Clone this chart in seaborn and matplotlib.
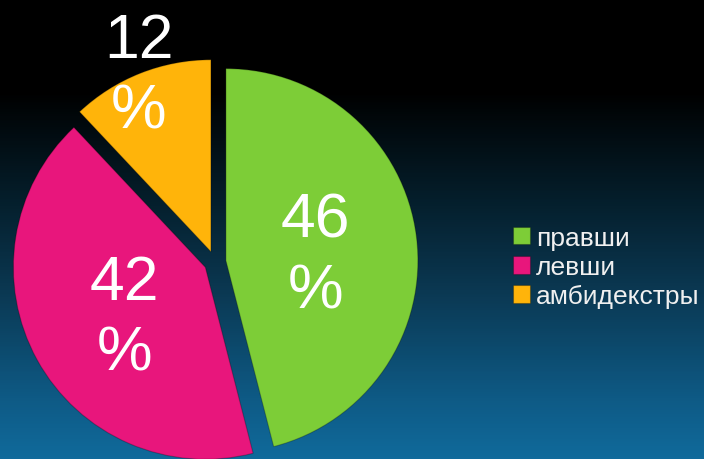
import numpy as np
import matplotlib
matplotlib.use("Agg")
import matplotlib.pyplot as plt
import seaborn as sns
from matplotlib.colors import LinearSegmentedColormap

# ---- data ----
categories = ["правши", "левши", "амбидекстры"]
values = [46, 42, 12]
pct_labels = ["46\n%", "42\n%", "12\n%"]

# ---- style ----
sns.set_style("white")
plt.rcParams['font.family'] = ['Liberation Sans', 'DejaVu Sans']
colors = sns.color_palette(["#7DCD37", "#E8167C", "#FFB40A"])

fig = plt.figure(figsize=(7.04, 4.6), dpi=100)

# background gradient
bg = fig.add_axes([0, 0, 1, 1], zorder=0)
cmap = LinearSegmentedColormap.from_list(
    "bg", [(0.0, "#000000"), (0.2, "#000000"), (0.45, "#05202e"),
           (0.65, "#0b3a55"), (0.87, "#0e5a85"), (1.0, "#106a9b")])
grad = np.linspace(0, 1, 460).reshape(-1, 1)
bg.imshow(grad, aspect='auto', cmap=cmap)
bg.axis('off')

# pie axes in pixel-like units
ax = fig.add_axes([0, 0, 1, 1], zorder=1)
ax.patch.set_alpha(0)
R = 192
wedges, _ = ax.pie(values, colors=colors, startangle=90, counterclock=False,
                   center=(215, 197), radius=R, explode=[11, 11, 11],
                   wedgeprops=dict(edgecolor=(0, 0, 0, 0.25), linewidth=0.8))
ax.set_xlim(0, 704)
ax.set_ylim(0, 460)
ax.set_aspect('equal')
ax.axis('off')

dists = [0.47, 0.48, 1.02]
for w, lab, d in zip(wedges, pct_labels, dists):
    tm = np.deg2rad(0.5 * (w.theta1 + w.theta2))
    cx, cy = w.center
    ax.text(cx + d * R * np.cos(tm), cy + d * R * np.sin(tm) - 6, lab,
            ha='center', va='center', color='white', fontsize=45,
            linespacing=1.25)

ax.legend(wedges, categories, loc='center left',
          bbox_to_anchor=(513 / 704, (460 - 268) / 460),
          bbox_transform=fig.transFigure, frameon=False, fontsize=19,
          labelcolor='#F0F0F0', handlelength=0.66, handleheight=0.66,
          handletextpad=0.2, labelspacing=0.2, borderpad=0, borderaxespad=0)

fig.savefig("out.png", dpi=100)
